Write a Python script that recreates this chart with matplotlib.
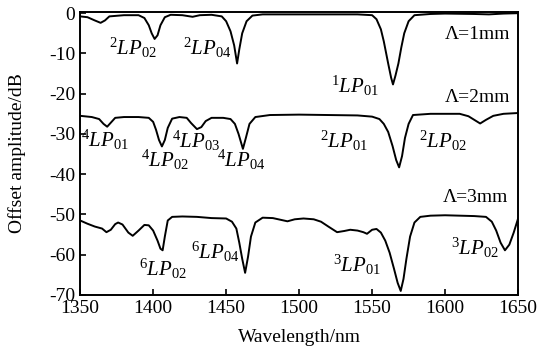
import matplotlib
matplotlib.use("Agg")
import matplotlib.pyplot as plt

plt.rcParams["font.family"] = ["Liberation Serif", "DejaVu Serif"]
plt.rcParams["mathtext.fontset"] = "custom"
plt.rcParams["mathtext.rm"] = "Liberation Serif"
plt.rcParams["mathtext.it"] = "Liberation Serif:italic"
plt.rcParams["axes.unicode_minus"] = False

# Lambda = 1 mm
lam1 = [1350, 1355, 1360, 1364, 1367, 1370, 1380, 1390, 1394, 1397, 1399, 1401, 1403,
        1405, 1408, 1412, 1420, 1427, 1432, 1440, 1447, 1450, 1453, 1455.5, 1457.5,
        1459, 1461, 1464, 1468, 1475, 1490, 1500, 1520, 1540, 1550, 1553, 1556, 1558,
        1561, 1563, 1564.3, 1566, 1568, 1570, 1572, 1575, 1579, 1590, 1600, 1620, 1630,
        1640, 1650]
amp1 = [-0.8, -1.0, -1.8, -2.4, -1.8, -0.8, -0.5, -0.5, -1.2, -3.0, -5.0, -6.4, -5.5,
        -3.0, -1.0, -0.4, -0.5, -0.9, -0.5, -0.4, -0.8, -2.0, -4.5, -8.0, -12.5,
        -9.0, -5.0, -2.0, -0.6, -0.3, -0.3, -0.3, -0.3, -0.3, -0.5, -1.5, -4.0, -7.0,
        -12.5, -16.0, -17.7, -15.5, -12.5, -8.5, -5.0, -2.0, -0.5, -0.2, -0.1, -0.2, -0.3,
        -0.1, 0.0]

# Lambda = 2 mm
lam2 = [1350, 1358, 1363, 1366, 1368.5, 1371, 1374, 1380, 1390, 1397, 1400, 1402, 1404,
        1406, 1408, 1410, 1413, 1418, 1423, 1426, 1430, 1433, 1436, 1440, 1448, 1453,
        1456, 1458.5, 1461.5, 1463.5, 1466, 1470, 1480, 1500, 1520, 1540, 1550, 1555,
        1558, 1561, 1564, 1566.5, 1568.5, 1570.5, 1572.5, 1575, 1578, 1590, 1610, 1616,
        1620, 1624, 1628, 1633, 1640, 1650]
amp2 = [-25.5, -25.8, -26.3, -27.5, -28.2, -27.2, -26.0, -25.8, -25.8, -26.0, -27.0, -29.0, -31.5,
        -33.1, -31.5, -28.5, -26.2, -25.8, -26.0, -27.3, -28.8, -28.3, -26.8, -26.0, -26.0, -26.3,
        -27.5, -30.0, -33.7, -31.0, -27.5, -25.8, -25.3, -25.2, -25.3, -25.4, -25.7, -26.3,
        -27.5, -29.5, -33.0, -36.5, -38.3, -35.5, -31.0, -27.5, -25.3, -25.0, -25.0, -25.6,
        -26.5, -27.4, -26.5, -25.5, -25.0, -24.8]

# Lambda = 3 mm
lam3 = [1350, 1355, 1360, 1365, 1368, 1371, 1374, 1376, 1379, 1383, 1386, 1390, 1394,
        1397, 1400, 1403, 1405, 1406.5, 1408, 1410, 1413, 1420, 1430, 1440, 1450, 1454,
        1457, 1459, 1461, 1463, 1465, 1467, 1470, 1475, 1482, 1487, 1492, 1497, 1503,
        1510, 1515, 1520, 1526, 1531, 1535, 1540, 1544, 1546.5, 1550, 1553, 1556, 1559,
        1562, 1565, 1567.5, 1569.6, 1571.5, 1573.5, 1576, 1579, 1583, 1590, 1600, 1620,
        1628, 1632, 1635, 1638, 1641, 1644, 1647, 1650]
amp3 = [-51.5, -52.3, -53.0, -53.5, -54.4, -53.8, -52.4, -52.0, -52.5, -54.5, -55.3, -54.0, -52.6,
        -52.7, -54.0, -56.5, -58.5, -58.9, -55.5, -51.5, -50.6, -50.5, -50.6, -50.9, -51.0, -51.8,
        -53.5, -57.0, -61.0, -64.5, -60.5, -55.5, -52.0, -50.8, -50.9, -51.3, -51.7, -51.2, -51.0,
        -51.2, -51.8, -53.0, -54.4, -54.1, -53.8, -54.0, -54.4, -54.8, -53.8, -53.6, -54.5, -56.5,
        -59.5, -63.5, -67.0, -69.0, -66.0, -61.0, -55.5, -52.0, -50.6, -50.3, -50.2, -50.4,
        -50.6, -51.8, -54.0, -57.0, -58.9, -57.5, -54.5, -51.0]

# mode labels: (text, wavelength, dB)
labels = [
    (r"$^{2}LP_{02}$", 1386, -8.7),
    (r"$^{2}LP_{04}$", 1437, -8.7),
    (r"$^{1}LP_{01}$", 1538, -18.0),
    (r"$^{4}LP_{01}$", 1367, -31.5),
    (r"$^{4}LP_{02}$", 1408, -36.5),
    (r"$^{4}LP_{03}$", 1429.5, -31.7),
    (r"$^{4}LP_{04}$", 1460.5, -36.5),
    (r"$^{2}LP_{01}$", 1531, -31.7),
    (r"$^{2}LP_{02}$", 1598.5, -31.7),
    (r"$^{6}LP_{02}$", 1407, -63.4),
    (r"$^{6}LP_{04}$", 1442.5, -59.4),
    (r"$^{3}LP_{01}$", 1539.5, -62.6),
    (r"$^{3}LP_{02}$", 1620.5, -58.2),
]
periods = [("\u039b=1mm", 1622.5, -5.2), ("\u039b=2mm", 1622.5, -21.0), ("\u039b=3mm", 1620.5, -45.8)]

fig = plt.figure(figsize=(5.38, 3.52), dpi=100)
ax = fig.add_axes([0.149, 0.162, 0.814, 0.804])

for lam, amp in [(lam1, amp1), (lam2, amp2), (lam3, amp3)]:
    ax.plot(lam, amp, color="black", lw=1.4)

for txt, x, y in labels:
    ax.text(x, y, txt, ha="center", va="center", fontsize=15)
for txt, x, y in periods:
    ax.text(x, y, txt, ha="center", va="center", fontsize=14)

ax.set_xlim(1350, 1650)
ax.set_ylim(-70, 0.3)
ax.set_xticks(range(1350, 1651, 50))
ax.set_yticks(range(-70, 1, 10))
ax.tick_params(direction="in", labelsize=14, length=4, width=1.2)
for s in ax.spines.values():
    s.set_linewidth(1.4)
ax.set_xlabel("Wavelength/nm", fontsize=14)
ax.set_ylabel("Offset amplitude/dB", fontsize=14)
ax.xaxis.set_label_coords(0.5, -0.152, transform=ax.transAxes)
ax.yaxis.set_label_coords(-0.144, 0.5, transform=ax.transAxes)
ax.xaxis.label.set_va("center")
ax.yaxis.label.set_va("center")

fig.savefig("out.png", dpi=100)
